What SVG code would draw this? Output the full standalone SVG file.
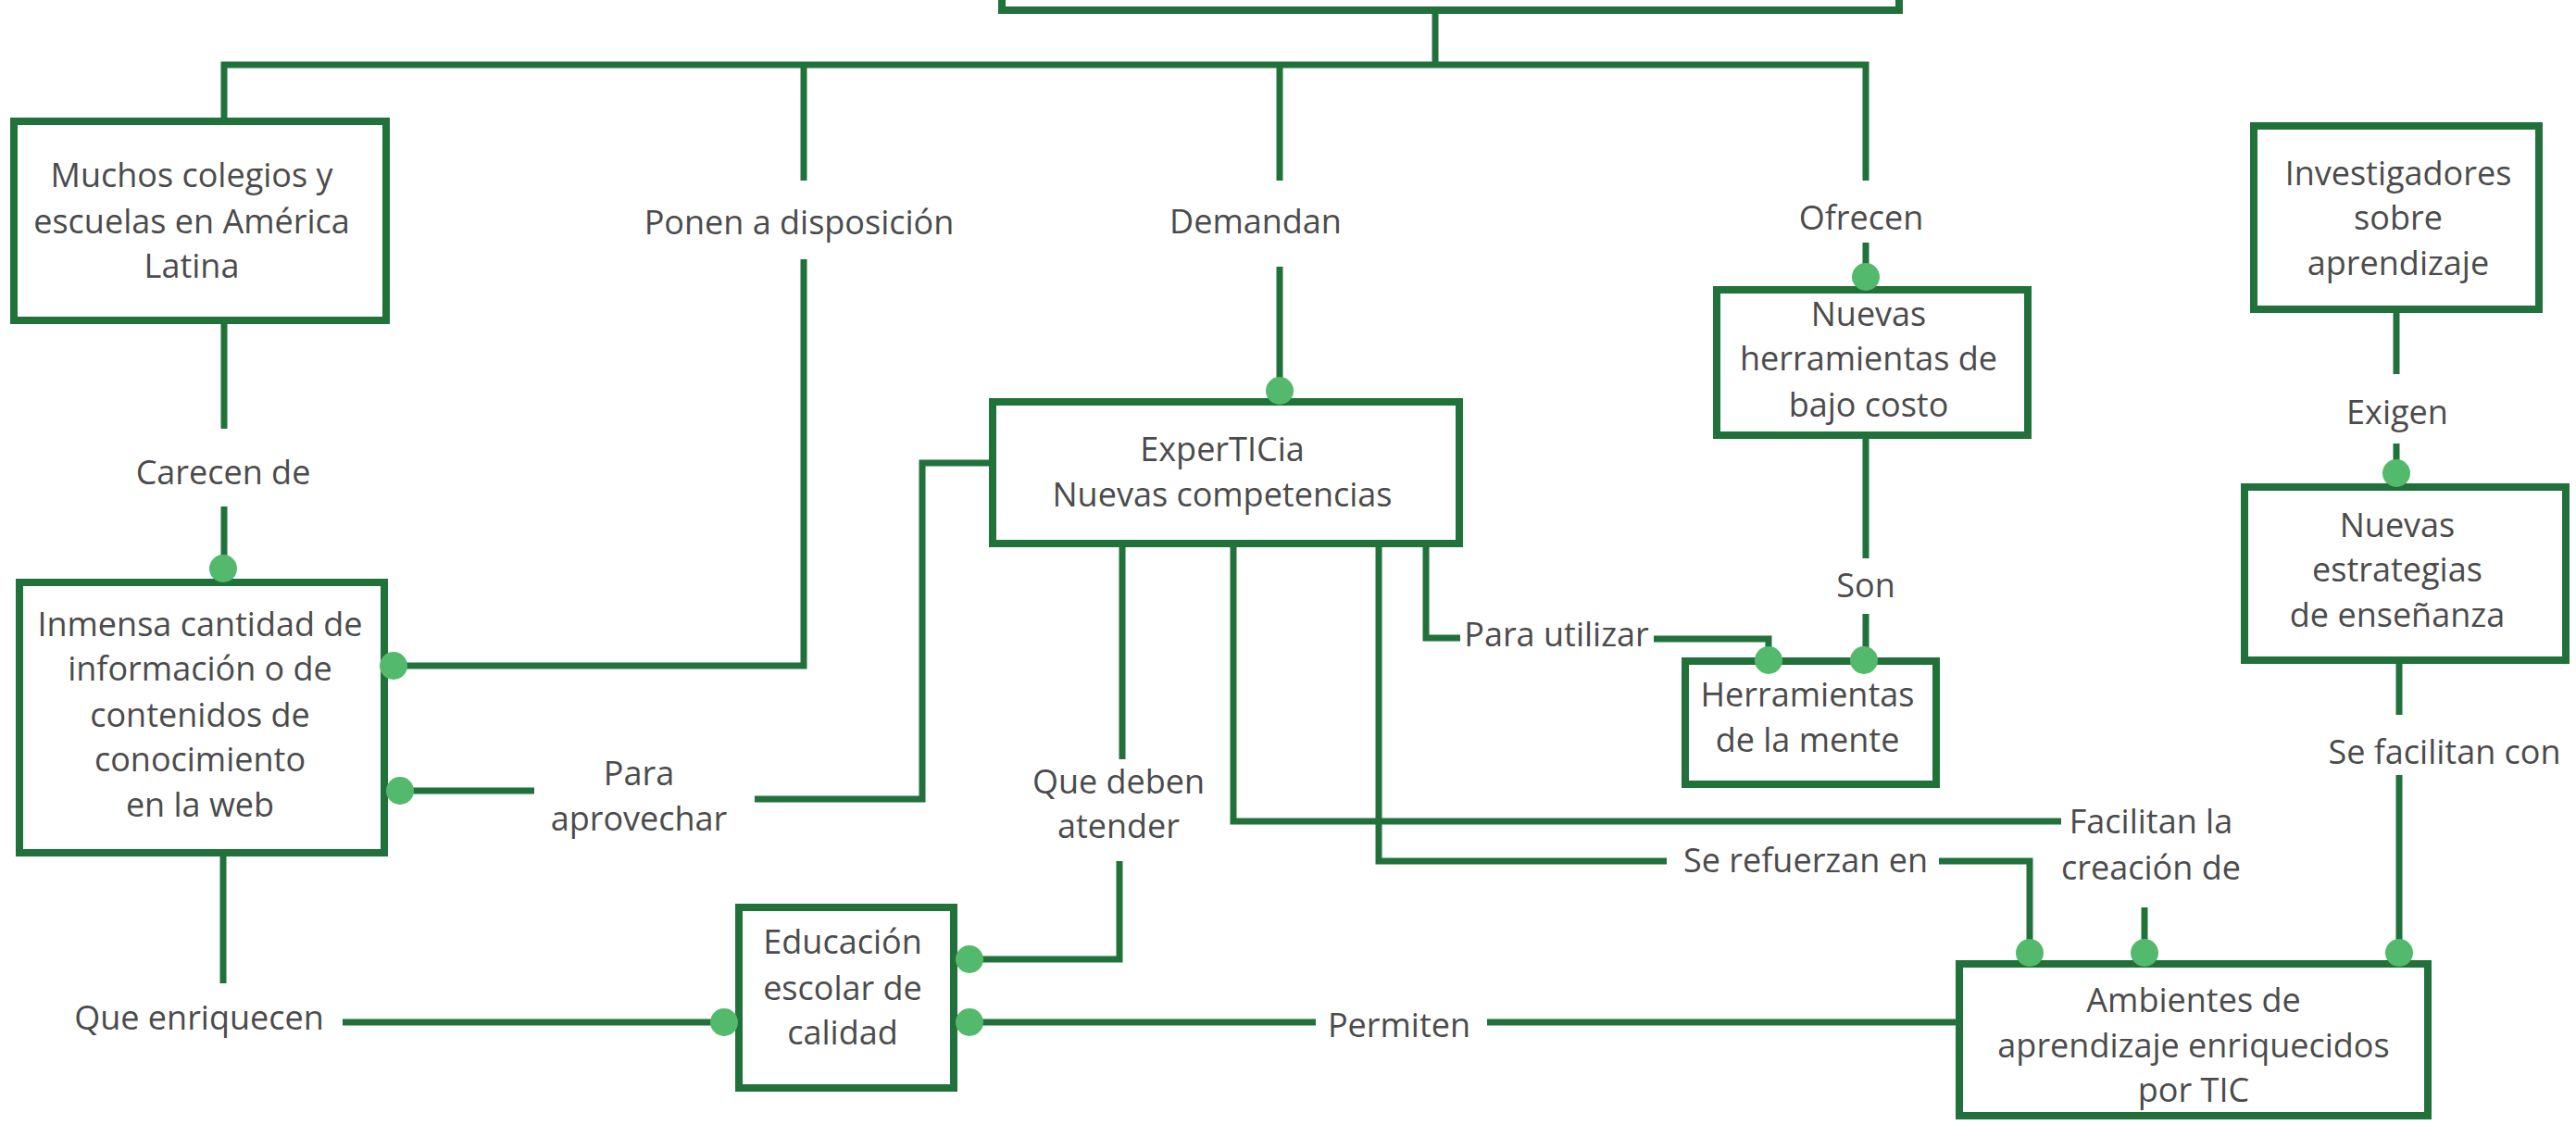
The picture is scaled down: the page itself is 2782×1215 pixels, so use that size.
<svg xmlns="http://www.w3.org/2000/svg" width="2782" height="1215" viewBox="0 0 2782 1215">
  <style>
    .box { fill: #ffffff; stroke: #21713b; stroke-width: 8; }
    .link { fill: none; stroke: #21713b; stroke-width: 7; stroke-linejoin: miter; stroke-linecap: butt; }
    .dot { fill: #53b96c; }
    text { font-family: "Open Sans", "Noto Sans", "Liberation Sans", sans-serif; font-size: 36px; fill: #4b4b4b; text-anchor: middle; }
  </style>
  <rect width="2782" height="1215" fill="#ffffff"/>

  <!-- connectors -->
  <g id="connectors">
    <path class="link" d="M1550,15 V70"/>
    <path class="link" d="M242,127 V70 H2015 V195"/>
    <path class="link" d="M868,70 V195"/>
    <path class="link" d="M1382,70 V195"/>
    <path class="link" d="M868,280 V719 H432"/>
    <path class="link" d="M1382,288 V422"/>
    <path class="link" d="M2015,262 V299"/>
    <path class="link" d="M242,350 V463"/>
    <path class="link" d="M242,547 V614"/>
    <path class="link" d="M241,925 V1062"/>
    <path class="link" d="M370,1104 H782"/>
    <path class="link" d="M1068,500 H996 V863 H815"/>
    <path class="link" d="M577,854 H432"/>
    <path class="link" d="M1212,591 V820"/>
    <path class="link" d="M1209,930 V1036 H1047"/>
    <path class="link" d="M1332,591 V887 H2226"/>
    <path class="link" d="M2316,980 V1029"/>
    <path class="link" d="M1489,591 V930 H1800"/>
    <path class="link" d="M2094,930 H2192 V1029"/>
    <path class="link" d="M1540,591 V689 H1577"/>
    <path class="link" d="M1786,690 H1910 V713"/>
    <path class="link" d="M2015,474 V603"/>
    <path class="link" d="M2015,663 V713"/>
    <path class="link" d="M2588,338 V404"/>
    <path class="link" d="M2588,479 V511"/>
    <path class="link" d="M2591,717 V772"/>
    <path class="link" d="M2591,837 V1029"/>
    <path class="link" d="M1047,1104 H1421"/>
    <path class="link" d="M1606,1104 H2112"/>
  </g>

  <!-- link labels -->
  <g id="labels">
    <text x="241" y="523">Carecen de</text>
    <text x="863" y="253">Ponen a disposición</text>
    <text x="1356" y="252">Demandan</text>
    <text x="2010" y="248">Ofrecen</text>
    <text x="2015" y="645">Son</text>
    <text x="2589" y="458">Exigen</text>
    <text x="1681" y="698">Para utilizar</text>
    <text x="2640" y="825">Se facilitan con</text>
    <text x="690" y="848">Para</text>
    <text x="690" y="897">aprovechar</text>
    <text x="1208" y="857">Que deben</text>
    <text x="1208" y="905">atender</text>
    <text x="2323" y="900">Facilitan la</text>
    <text x="2323" y="950">creación de</text>
    <text x="1950" y="942">Se refuerzan en</text>
    <text x="215" y="1112">Que enriquecen</text>
    <text x="1511" y="1120">Permiten</text>
  </g>

  <!-- nodes -->
  <g id="node-top">
    <rect class="box" x="1082" y="-60" width="969" height="71"/>
  </g>
  <g id="node-colegios">
    <rect class="box" x="15" y="131" width="402" height="215"/>
    <text x="207" y="202">Muchos colegios y</text>
    <text x="207" y="252">escuelas en América</text>
    <text x="207" y="300">Latina</text>
  </g>
  <g id="node-informacion">
    <rect class="box" x="21" y="629" width="394" height="292"/>
    <text x="216" y="687">Inmensa cantidad de</text>
    <text x="216" y="735">información o de</text>
    <text x="216" y="785">contenidos de</text>
    <text x="216" y="833">conocimiento</text>
    <text x="216" y="882">en la web</text>
  </g>
  <g id="node-experticia">
    <rect class="box" x="1072" y="434" width="504" height="153"/>
    <text x="1320" y="498">ExperTICia</text>
    <text x="1320" y="547">Nuevas competencias</text>
  </g>
  <g id="node-herramientas-costo">
    <rect class="box" x="1854" y="313" width="336" height="157"/>
    <text x="2018" y="352">Nuevas</text>
    <text x="2018" y="400">herramientas de</text>
    <text x="2018" y="450">bajo costo</text>
  </g>
  <g id="node-herramientas-mente">
    <rect class="box" x="1820" y="714" width="271" height="133"/>
    <text x="1952" y="763">Herramientas</text>
    <text x="1952" y="812">de la mente</text>
  </g>
  <g id="node-investigadores">
    <rect class="box" x="2434" y="136" width="308" height="198"/>
    <text x="2590" y="200">Investigadores</text>
    <text x="2590" y="248">sobre</text>
    <text x="2590" y="297">aprendizaje</text>
  </g>
  <g id="node-estrategias">
    <rect class="box" x="2424" y="526" width="347" height="187"/>
    <text x="2589" y="580">Nuevas</text>
    <text x="2589" y="628">estrategias</text>
    <text x="2589" y="677">de enseñanza</text>
  </g>
  <g id="node-educacion">
    <rect class="box" x="798" y="980" width="232" height="195"/>
    <text x="910" y="1030">Educación</text>
    <text x="910" y="1080">escolar de</text>
    <text x="910" y="1128">calidad</text>
  </g>
  <g id="node-ambientes">
    <rect class="box" x="2116" y="1041" width="506" height="164"/>
    <text x="2369" y="1093">Ambientes de</text>
    <text x="2369" y="1142">aprendizaje enriquecidos</text>
    <text x="2369" y="1190">por TIC</text>
  </g>

  <!-- connection dots -->
  <g id="dots">
    <circle class="dot" cx="241" cy="614" r="15"/>
    <circle class="dot" cx="425" cy="719" r="15"/>
    <circle class="dot" cx="432" cy="854" r="15"/>
    <circle class="dot" cx="1382" cy="422" r="15"/>
    <circle class="dot" cx="2015" cy="299" r="15"/>
    <circle class="dot" cx="1910" cy="713" r="15"/>
    <circle class="dot" cx="2013" cy="713" r="15"/>
    <circle class="dot" cx="2588" cy="511" r="15"/>
    <circle class="dot" cx="782" cy="1104" r="15"/>
    <circle class="dot" cx="1047" cy="1036" r="15"/>
    <circle class="dot" cx="1047" cy="1104" r="15"/>
    <circle class="dot" cx="2192" cy="1029" r="15"/>
    <circle class="dot" cx="2316" cy="1029" r="15"/>
    <circle class="dot" cx="2591" cy="1029" r="15"/>
  </g>
</svg>
